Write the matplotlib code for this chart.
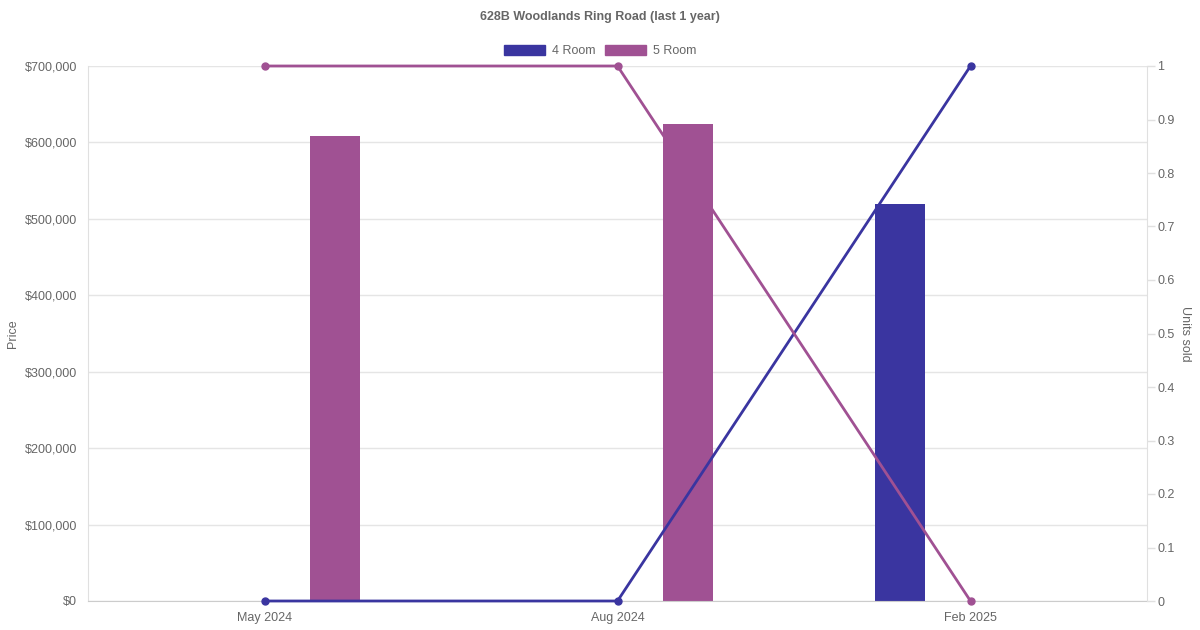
import numpy as np
import matplotlib.pyplot as plt
from matplotlib.ticker import FuncFormatter
from matplotlib.patches import Patch

plt.rcParams['font.family'] = ['Liberation Sans', 'DejaVu Sans']

months = ['May 2024', 'Aug 2024', 'Feb 2025']
price_4room = [np.nan, np.nan, 519000]
price_5room = [609000, 624000, np.nan]
units_4room = [0, 0, 1]
units_5room = [1, 1, 0]

c4 = '#3a35a0'
c5 = '#a05193'
grey = '#666666'

fig = plt.figure(figsize=(12, 6.3), dpi=100)
ax = fig.add_axes([88/1200, 29/630, (1147-88)/1200, (601-66)/630])
ax2 = ax.twinx()

x = np.arange(len(months))
ax.bar(x - 0.2, price_4room, width=0.142, color=c4, zorder=2)
ax.bar(x + 0.2, price_5room, width=0.142, color=c5, zorder=2)

ax.set_xlim(-0.5, 2.5)
ax.set_ylim(0, 700000)
ax.set_yticks(np.arange(0, 700001, 100000))
ax.yaxis.set_major_formatter(FuncFormatter(lambda v, p: '${:,.0f}'.format(v)))
ax.set_xticks(x)
ax.set_xticklabels(months)
ax.grid(axis='y', color='#e5e5e5', linewidth=1, zorder=0)
ax.set_axisbelow(True)
ax.tick_params(axis='y', length=0, pad=8, labelsize=9, colors=grey)
ax.tick_params(axis='x', length=0, pad=8, labelsize=9, colors=grey)
for s in ['top', 'right']:
    ax.spines[s].set_visible(False)
ax.spines['left'].set_color('#e0e0e0')
ax.spines['bottom'].set_color('#cccccc')
ax.set_ylabel('Price', color=grey, fontsize=9, labelpad=4)

ax2.plot(x, units_4room, color=c4, lw=2, marker='o', ms=5, label='4 Room', clip_on=False)
ax2.plot(x, units_5room, color=c5, lw=2, marker='o', ms=5, label='5 Room', clip_on=False)
ax2.set_ylim(0, 1)
ax2.set_yticks(np.arange(0, 1.01, 0.1))
ax2.yaxis.set_major_formatter(FuncFormatter(lambda v, p: '{:g}'.format(round(v, 1))))
ax2.tick_params(axis='y', length=6, width=1, pad=1.5, labelsize=9, colors=grey)
ax2.tick_params(axis='y', color='#e0e0e0')
for s in ['top', 'left', 'bottom']:
    ax2.spines[s].set_visible(False)
ax2.spines['right'].set_color('#e0e0e0')
ax2.set_ylabel('Units sold', color=grey, fontsize=9, rotation=-90, labelpad=12)

fig.text(0.5, 1 - 17/630, '628B Woodlands Ring Road (last 1 year)', ha='center', va='center',
         fontsize=9, fontweight='bold', color=grey)

handles = [Patch(color=c4, label='4 Room'), Patch(color=c5, label='5 Room')]
fig.legend(handles=handles, loc='center', bbox_to_anchor=(0.5, 1 - 51/630), ncol=2, frameon=False,
           fontsize=9, labelcolor=grey, handlelength=3.3, handleheight=0.9, handletextpad=0.5,
           columnspacing=0.8)

plt.savefig('out.png', dpi=100)
